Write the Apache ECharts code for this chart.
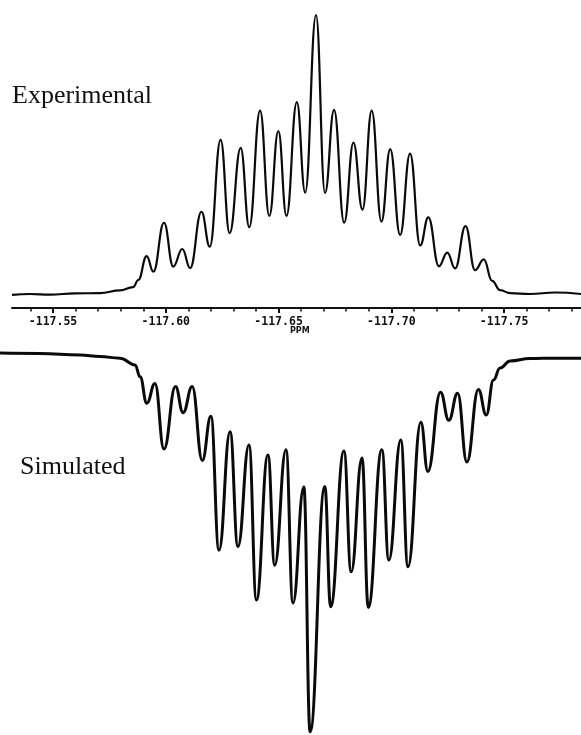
<!DOCTYPE html>
<html>
<head>
<meta charset="utf-8">
<script src="https://cdn.jsdelivr.net/npm/echarts@6/dist/echarts.min.js"></script>
<style>
html,body{margin:0;padding:0;background:#fff;}
#chart{width:581px;height:735px;}
</style>
</head>
<body>
<div id="chart"></div>
<script>
// Experimental spectrum (ppm, relative intensity)
const expPpm = [-117.5318,-117.5398,-117.5487,-117.5598,-117.5708,-117.5797,-117.5855,-117.5878,
  -117.5915,-117.5945,-117.5992,-117.6033,-117.6073,-117.6108,-117.6158,-117.6195,-117.6243,-117.6283,
  -117.6332,-117.6370,-117.6418,-117.6459,-117.6499,-117.6535,-117.6581,-117.6618,-117.6666,-117.6706,
  -117.6746,-117.6791,-117.6832,-117.6872,-117.6913,-117.6956,-117.6995,-117.7039,-117.7083,-117.7128,
  -117.7164,-117.7211,-117.7248,-117.7283,-117.7329,-117.7371,-117.7410,-117.7447,-117.7482,-117.7527,
  -117.7615,-117.7726,-117.7841];
const expInt = [4.4,4.7,4.5,4.9,5.0,5.9,7.0,9.4,
  17.4,12.2,28.6,13.9,19.8,13.4,32.3,20.6,56.4,25.1,
  53.7,27.1,66.2,30.9,59.4,30.9,69.1,38.7,98.3,38.6,
  66.5,28.6,55.5,33.0,66.2,29.0,53.3,24.5,51.8,21.0,
  30.4,14.0,18.6,13.3,27.5,12.7,16.3,9.1,6.0,5.0,
  4.7,5.2,4.7];

// Simulated spectrum (ppm, relative intensity, drawn inverted)
const simPpm = [-117.5265,-117.5442,-117.5620,-117.5708,-117.5797,-117.5864,-117.5886,-117.5916,
  -117.5952,-117.5992,-117.6043,-117.6077,-117.6117,-117.6162,-117.6200,-117.6236,-117.6285,-117.6320,
  -117.6369,-117.6402,-117.6453,-117.6483,-117.6533,-117.6564,-117.6612,-117.6640,-117.6705,-117.6731,
  -117.6790,-117.6822,-117.6870,-117.6898,-117.6958,-117.6989,-117.7042,-117.7074,-117.7131,-117.7162,
  -117.7218,-117.7255,-117.7294,-117.7335,-117.7386,-117.7421,-117.7453,-117.7482,-117.7527,-117.7615,
  -117.7726,-117.7841];
const simInt = [3.3,3.4,3.8,4.2,4.6,6.3,9.3,16.0,
  11.0,27.6,11.8,18.4,11.8,30.5,19.3,53.2,23.2,52.3,
  26.6,65.8,29.1,57.0,27.8,66.6,37.2,99.2,37.1,67.5,
  28.1,58.7,29.9,67.7,27.8,55.7,25.3,57.4,20.8,33.3,
  13.2,20.3,13.5,30.9,12.5,19.0,10.1,7.1,5.3,4.7,
  4.6,4.6];

// Axis ticks (ppm)
const majorTicks = [-117.55,-117.60,-117.65,-117.70,-117.75];
const minorTicks = [-117.54,-117.55,-117.56,-117.57,-117.58,-117.59,-117.60,-117.61,-117.62,-117.63,
  -117.64,-117.65,-117.66,-117.67,-117.68,-117.69,-117.70,-117.71,-117.72,-117.73,-117.74,-117.75,
  -117.76,-117.77,-117.78];

const xMinTop = -117.7841, xMaxTop = -117.5318;
const xMinBot = -117.7841, xMaxBot = -117.5265;

const expData = expPpm.map((p,i)=>[p, expInt[i]]);
const simData = simPpm.map((p,i)=>[p, simInt[i]]);

const chart = echarts.init(document.getElementById('chart'), null, {renderer:'canvas'});
const option = {
  animation: false,
  backgroundColor: '#fff',
  grid: [
    {left: 12, right: 0, top: 10, height: 298},
    {left: 0, right: 0, top: 340, height: 395}
  ],
  xAxis: [
    {
      type: 'value', gridIndex: 0, min: xMinTop, max: xMaxTop, inverse: true,
      position: 'bottom',
      axisLine: {show: true, onZero: false, lineStyle: {color: '#111', width: 2}},
      axisTick: {show: true, customValues: majorTicks, length: 5, lineStyle: {color: '#111', width: 2}},
      axisLabel: {show: true, customValues: majorTicks, margin: 8,
        formatter: v => v.toFixed(2),
        fontFamily: 'DejaVu Sans Mono', fontWeight: 'bold', fontSize: 11.5, color: '#111'},
      splitLine: {show: false}
    },
    {
      type: 'value', gridIndex: 0, min: xMinTop, max: xMaxTop, inverse: true,
      position: 'bottom',
      axisLine: {show: false},
      axisTick: {show: true, customValues: minorTicks, length: 3.5, lineStyle: {color: '#111', width: 1.5}},
      axisLabel: {show: false, customValues: minorTicks},
      splitLine: {show: false}
    },
    {
      type: 'value', gridIndex: 1, min: xMinBot, max: xMaxBot, inverse: true,
      show: false, splitLine: {show: false}
    }
  ],
  yAxis: [
    {type: 'value', gridIndex: 0, min: 0, max: 100, show: false, splitLine: {show: false}},
    {type: 'value', gridIndex: 1, min: 0, max: 100, inverse: true, show: false, splitLine: {show: false}}
  ],
  series: [
    {
      name: 'Experimental', type: 'line', xAxisIndex: 0, yAxisIndex: 0,
      data: expData, showSymbol: false, smooth: 0.45, smoothMonotone: 'x',
      lineStyle: {color: '#0a0a0a', width: 2.2}
    },
    {
      name: 'Simulated', type: 'line', xAxisIndex: 2, yAxisIndex: 1,
      data: simData, showSymbol: false, smooth: 0.45, smoothMonotone: 'x',
      lineStyle: {color: '#0a0a0a', width: 3}
    }
  ],
  graphic: [
    {type: 'text', left: 12, top: 83,
      style: {text: 'Experimental', fontFamily: 'Liberation Serif', fontSize: 26, fill: '#111'}},
    {type: 'text', left: 20, top: 454,
      style: {text: 'Simulated', fontFamily: 'Liberation Serif', fontSize: 26, fill: '#111'}},
    {type: 'text', left: 290, top: 327,
      style: {text: 'PPM', fontFamily: 'DejaVu Sans', fontWeight: 'bold', fontSize: 8, fill: '#111'}}
  ]
};
chart.setOption(option);
</script>
</body>
</html>
